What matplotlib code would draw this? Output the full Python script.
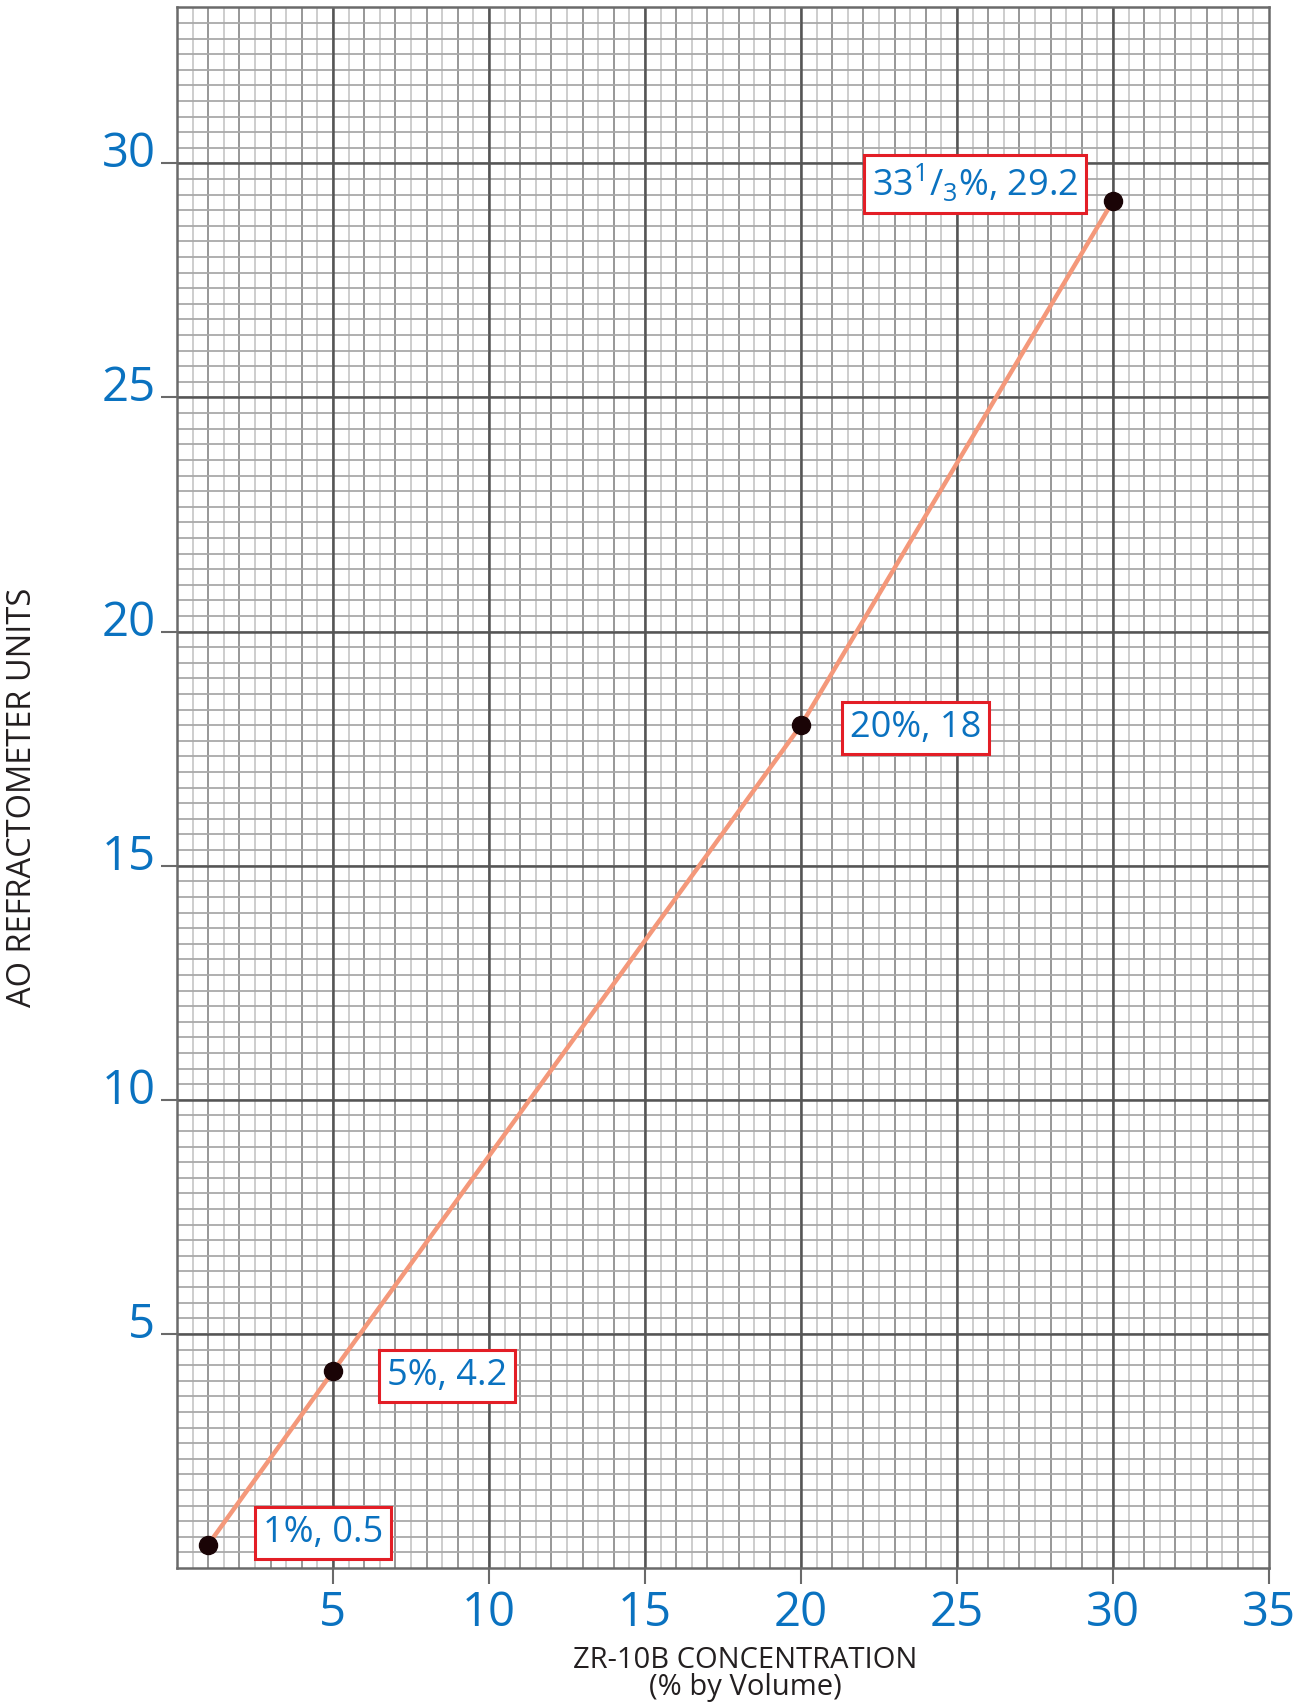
import numpy as np
import matplotlib.pyplot as plt
from matplotlib.transforms import ScaledTranslation

# --- data -------------------------------------------------
conc = [1, 5, 20, 30]            # ZR-10B concentratie (as)
units = [0.5, 4.2, 18, 29.2]     # AO refractometer units
point_labels = ["1%, 0.5", "5%, 4.2", "20%, 18", r"33$^{1}$/$_{3}$%, 29.2"]
label_x = [4.68, 8.64, 23.67, 25.59]
label_y = [0.75, 4.10, 17.95, 29.56]
x_ticks = [5, 10, 15, 20, 25, 30, 35]
y_ticks = [5, 10, 15, 20, 25, 30]

plt.rcParams["font.family"] = ["Open Sans", "DejaVu Sans"]
plt.rcParams["mathtext.fontset"] = "custom"
plt.rcParams["mathtext.rm"] = "Open Sans"
plt.rcParams["mathtext.it"] = "Open Sans"

blue = "#0a72c0"
dark = "#231f20"

fig = plt.figure(figsize=(13.04, 17.04), dpi=100)
ax = fig.add_axes([177 / 1304, 1 - 1568 / 1704, 1092 / 1304, 1561 / 1704])

xmax, ymax = 35, 33.34
ax.set_xlim(0, xmax)
ax.set_ylim(0, ymax)

# --- millimeterpapier --------------------------------------
ax.vlines(np.arange(0.5, xmax, 1), 0, ymax, color="#c9c9c9", lw=1.3, zorder=0)
ax.vlines(np.arange(1, xmax, 1), 0, ymax, color="#8f8f8f", lw=1.3, zorder=0)
ax.hlines(np.arange(1, 101) / 3, 0, xmax, color="#a9a9a9", lw=1.3, zorder=0)
ax.vlines(np.arange(5, xmax, 5), 0, ymax, color="#555555", lw=1.8, zorder=1)
ax.hlines(np.arange(5, 31, 5), 0, xmax, color="#555555", lw=1.8, zorder=1)

for s in ax.spines.values():
    s.set_color("#6a6a6a")
    s.set_linewidth(1.8)

# --- lijn + punten -----------------------------------------
ax.plot(conc, units, color="#f4987a", lw=3.2, zorder=3)
ax.plot(conc, units, "o", color="#1a0406", ms=13, zorder=4)

for t, lx, ly in zip(point_labels, label_x, label_y):
    ax.text(lx, ly, t, color=blue, fontsize=26, ha="center", va="center", zorder=5,
            bbox=dict(boxstyle="square,pad=0.22", fc="white", ec="#e31e26", lw=2.2))

# --- assen -------------------------------------------------
ax.set_xticks(x_ticks)
ax.set_yticks(y_ticks)
ax.tick_params(axis="both", length=11.5, width=1.5, color="#6a6a6a",
               labelsize=34, labelcolor=blue)
ax.tick_params(axis="x", pad=4)
ax.tick_params(axis="y", pad=4)
shift = ScaledTranslation(0, -4 / 100, fig.dpi_scale_trans)
for lab in ax.get_yticklabels():
    lab.set_verticalalignment("baseline")
    lab.set_transform(lab.get_transform() + shift)

fig.text(23 / 1304, 1 - 797 / 1704, "AO REFRACTOMETER UNITS", rotation=90,
         ha="center", va="center", fontsize=23.5, color=dark)
fig.text(745 / 1304, 1 - 1661 / 1704, "ZR-10B CONCENTRATION",
         ha="center", va="center", fontsize=21, color=dark)
fig.text(745 / 1304, 1 - 1688 / 1704, "(% by Volume)",
         ha="center", va="center", fontsize=21, color=dark)

plt.savefig("out.png", dpi=100)
